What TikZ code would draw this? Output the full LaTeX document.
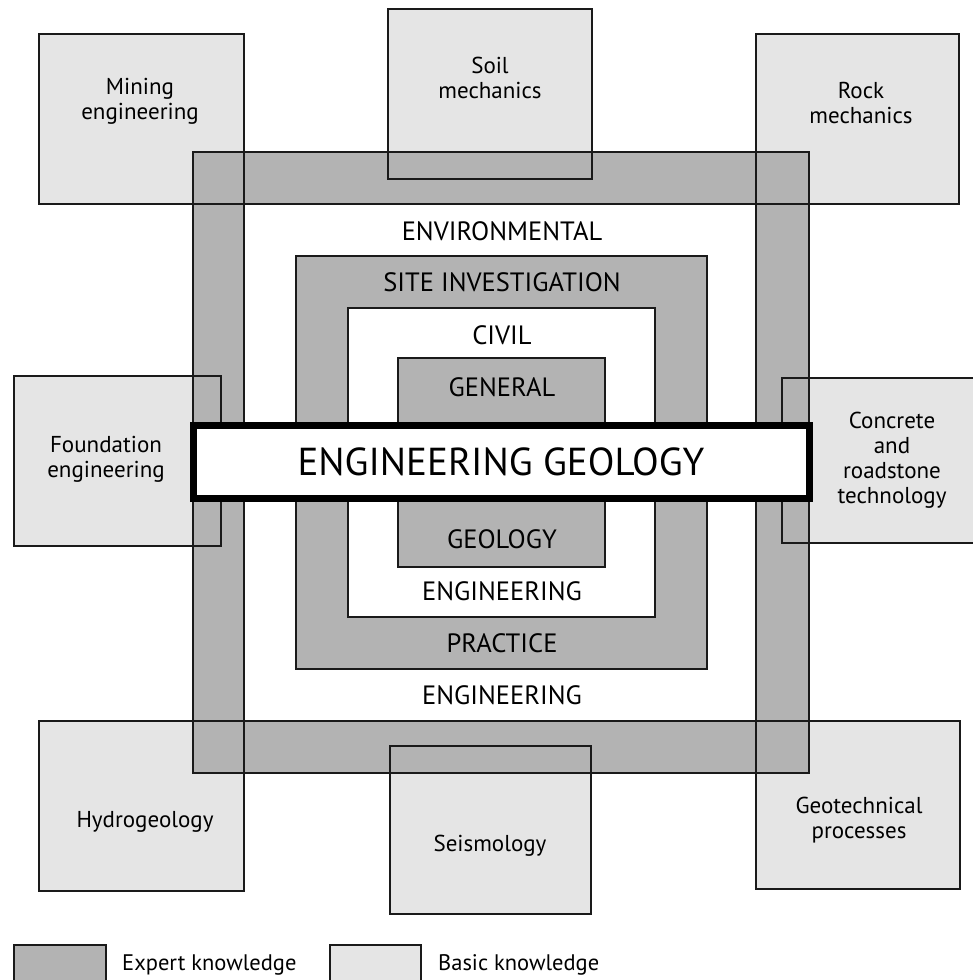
\documentclass[tikz,border=0pt]{standalone}
\usepackage{fontspec}
\setmainfont{PT Sans}
\definecolor{expert}{HTML}{B3B3B3}
\definecolor{basic}{HTML}{E5E5E5}
\definecolor{edge}{HTML}{1A1A1A}
\begin{document}
\begin{tikzpicture}[x=1pt,y=-1pt,
  basicfill/.style={fill=basic,draw=edge,line width=1.1pt},
  basicedge/.style={draw=edge,line width=1.1pt},
  expertfill/.style={fill=expert,draw=edge,line width=1.1pt,even odd rule},
  boxlabel/.style={align=center,font=\fontsize{23}{25}\selectfont,inner sep=0pt},
  ringlabel/.style={font=\fontsize{26.5}{28}\selectfont,inner sep=0pt},
  legendlabel/.style={anchor=west,font=\fontsize{22.5}{25}\selectfont,inner sep=0pt}]
\useasboundingbox (0,0) rectangle (973,980);
\clip (0,0) rectangle (973,980);
% basic knowledge boxes (fill)
\path[basicfill] (39,34) rectangle (244,204);
\path[basicfill] (388,9) rectangle (592,179);
\path[basicfill] (756,34) rectangle (959,204);
\path[basicfill] (14,376) rectangle (221,546);
\path[basicfill] (782,378) rectangle (985,543);
\path[basicfill] (39,721) rectangle (244,891);
\path[basicfill] (390,746) rectangle (591,914);
\path[basicfill] (756,721) rectangle (960,889);
% expert rings
\path[expertfill] (193,152) rectangle (809,773) (244,204) rectangle (756,721);
\path[expertfill] (296,256) rectangle (707,669) (348,308) rectangle (655,617);
\path[expertfill] (398,358) rectangle (605,567);
% basic box outlines on top
\path[basicedge] (39,34) rectangle (244,204);
\path[basicedge] (388,9) rectangle (592,179);
\path[basicedge] (756,34) rectangle (959,204);
\path[basicedge] (14,376) rectangle (221,546);
\path[basicedge] (782,378) rectangle (985,543);
\path[basicedge] (39,721) rectangle (244,891);
\path[basicedge] (390,746) rectangle (591,914);
\path[basicedge] (756,721) rectangle (960,889);
% central bar
\path[fill=white,draw=black,line width=7pt] (193.5,425.5) rectangle (809.5,498.5);
\node[inner sep=0pt,font=\fontsize{39}{44}\selectfont] (eg) at (501,462) {ENGINEERING GEOLOGY};
% box labels
\node[boxlabel] (mining) at (140,101) {Mining\\engineering};
\node[boxlabel] (soil) at (490,78) {Soil\\mechanics};
\node[boxlabel] (rock) at (861,103) {Rock\\mechanics};
\node[boxlabel] (found) at (106,459) {Foundation\\engineering};
\node[boxlabel] (concrete) at (892,460) {Concrete\\and\\roadstone\\technology};
\node[boxlabel] (hydro) at (145,822) {Hydrogeology};
\node[boxlabel] (seis) at (490,846) {Seismology};
\node[boxlabel] (geotech) at (859,820) {Geotechnical\\processes};
% ring labels
\node[ringlabel] (env) at (502,231) {ENVIRONMENTAL};
\node[ringlabel] (site) at (502,282) {SITE INVESTIGATION};
\node[ringlabel] (civil) at (502,335) {CIVIL};
\node[ringlabel] (general) at (502,387) {GENERAL};
\node[ringlabel] (geology) at (502,539) {GEOLOGY};
\node[ringlabel] (engin) at (502,591) {ENGINEERING};
\node[ringlabel] (practice) at (502,643) {PRACTICE};
\node[ringlabel] (engout) at (502,695) {ENGINEERING};
% legend
\path[fill=expert,draw=edge,line width=1.1pt] (14,945) rectangle (106,990);
\path[fill=basic,draw=edge,line width=1.1pt] (330,945) rectangle (421,990);
\node[legendlabel] (lexp) at (122,965) {Expert knowledge};
\node[legendlabel] (lbas) at (438,965) {Basic knowledge};
\end{tikzpicture}
\end{document}
